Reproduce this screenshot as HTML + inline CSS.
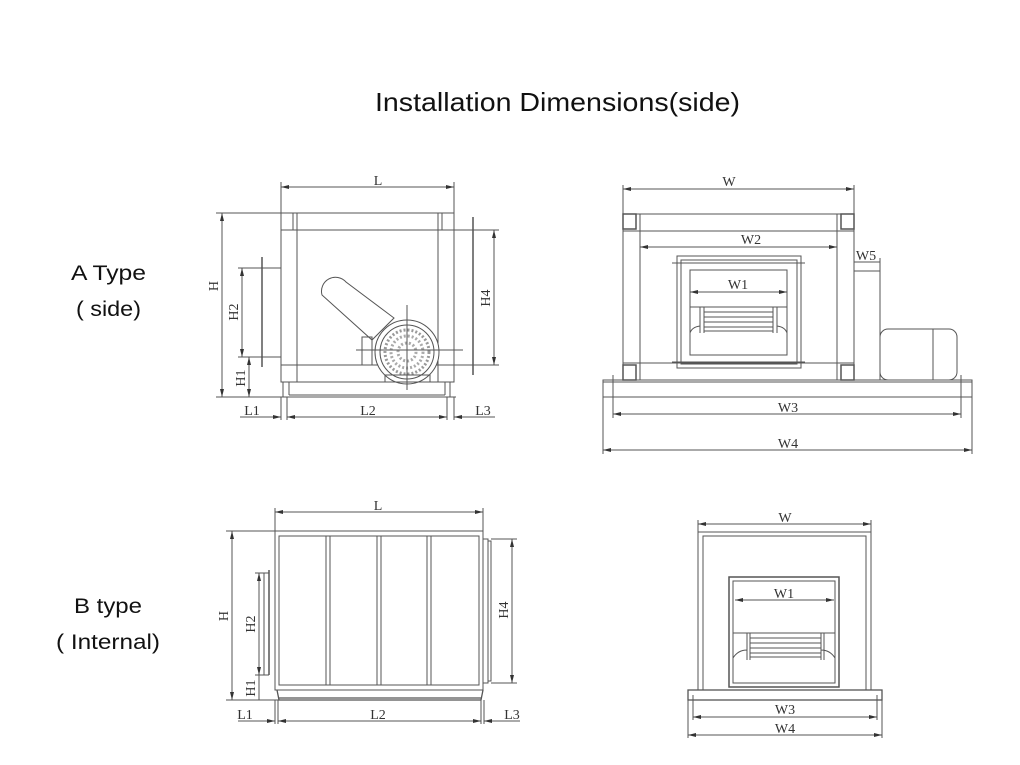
<!DOCTYPE html>
<html><head><meta charset="utf-8"><style>
html,body{margin:0;padding:0;background:#fff;}
svg{display:block}
.t{font-family:"Liberation Sans","Noto Sans CJK SC",sans-serif;fill:#111}
.d{font-family:"Liberation Serif",serif;font-size:14px;fill:#333}
</style></head><body>
<svg width="1020" height="765" viewBox="0 0 1020 765" xmlns="http://www.w3.org/2000/svg">
<defs>
<marker id="a" markerWidth="8" markerHeight="6" refX="8" refY="3" orient="auto-start-reverse" markerUnits="userSpaceOnUse"><path d="M0,1 L8,3 L0,5z" fill="#333"/></marker>
</defs>
<text class="t" x="375" y="111" font-size="26" textLength="365" lengthAdjust="spacingAndGlyphs">Installation Dimensions(side)</text>
<text class="t" x="71" y="280" font-size="21" textLength="75" lengthAdjust="spacingAndGlyphs">A Type</text>
<text class="t" x="76" y="316" font-size="21" textLength="65" lengthAdjust="spacingAndGlyphs">( side)</text>
<text class="t" x="74" y="613" font-size="21" textLength="68" lengthAdjust="spacingAndGlyphs">B type</text>
<text class="t" x="56" y="649" font-size="21" textLength="104" lengthAdjust="spacingAndGlyphs">( Internal)</text>

<g fill="none" stroke="#555" stroke-width="1">
<!-- ===== A side ===== -->
<line x1="281" y1="187" x2="454" y2="187" marker-start="url(#a)" marker-end="url(#a)"/>
<line x1="281" y1="182" x2="281" y2="213"/><line x1="454" y1="182" x2="454" y2="213"/>
<rect x="281" y="213" width="173" height="169"/>
<line x1="297" y1="213" x2="297" y2="382"/><line x1="438" y1="213" x2="438" y2="382"/>
<line x1="281" y1="230" x2="454" y2="230"/><line x1="281" y1="365" x2="454" y2="365"/>
<rect x="281" y="213" width="12" height="17"/><rect x="442" y="213" width="12" height="17"/>
<path d="M283,382 L283,397 M450,382 L450,397 M281,397 L456,397 M289,382 L289,395 M445,382 L445,395 M289,395 L445,395"/>
<rect x="262" y="268" width="19" height="89"/>
<line x1="262" y1="257" x2="262" y2="367" stroke-width="1.5"/>
<rect x="454" y="230" width="19" height="135"/>
<line x1="473" y1="217" x2="473" y2="375" stroke-width="1.5"/>
<line x1="216" y1="213" x2="281" y2="213"/><line x1="216" y1="397" x2="283" y2="397"/>
<line x1="222" y1="213" x2="222" y2="397" marker-start="url(#a)" marker-end="url(#a)"/>
<line x1="238" y1="268" x2="262" y2="268"/><line x1="238" y1="357" x2="262" y2="357"/>
<line x1="242" y1="268" x2="242" y2="357" marker-start="url(#a)" marker-end="url(#a)"/>
<line x1="249" y1="357" x2="249" y2="397" marker-start="url(#a)" marker-end="url(#a)"/>
<line x1="454" y1="230" x2="499" y2="230"/><line x1="454" y1="365" x2="499" y2="365"/>
<line x1="494" y1="230" x2="494" y2="365" marker-start="url(#a)" marker-end="url(#a)"/>
<path d="M281,397 L281,420 M287,397 L287,420 M447,397 L447,420 M454,397 L454,420"/>
<line x1="240" y1="417" x2="281" y2="417" marker-end="url(#a)"/>
<line x1="287" y1="417" x2="447" y2="417" marker-start="url(#a)" marker-end="url(#a)"/>
<line x1="454" y1="417" x2="495" y2="417" marker-start="url(#a)"/>
<path d="M322,295 A14,14 0 0 1 346,282 L394,318 L372,340 Z"/>
<circle cx="407" cy="352" r="32" fill="#fff"/>
<circle cx="407" cy="352" r="27"/>
<circle cx="407" cy="352" r="22" stroke-dasharray="2 2" stroke-width="3" stroke="#999"/>
<circle cx="407" cy="352" r="16" stroke-dasharray="2 2" stroke-width="3" stroke="#aaa"/>
<circle cx="407" cy="352" r="9" stroke-dasharray="2 2" stroke-width="3" stroke="#aaa"/>
<line x1="407" y1="305" x2="407" y2="390"/><line x1="356" y1="350" x2="463" y2="350"/>
<rect x="362" y="337" width="10" height="28"/>
<path d="M385,382 L430,382 L430,375 L385,375Z"/>

<!-- ===== A front ===== -->
<line x1="623" y1="189" x2="854" y2="189" marker-start="url(#a)" marker-end="url(#a)"/>
<line x1="623" y1="185" x2="623" y2="214"/><line x1="854" y1="185" x2="854" y2="214"/>
<rect x="623" y="214" width="231" height="166"/>
<line x1="640" y1="214" x2="640" y2="380"/><line x1="837" y1="214" x2="837" y2="380"/>
<line x1="623" y1="231" x2="854" y2="231"/><line x1="623" y1="363" x2="854" y2="363"/>
<rect x="623" y="214" width="13" height="15" stroke-width="1.5"/><rect x="841" y="214" width="13" height="15" stroke-width="1.5"/>
<rect x="623" y="365" width="13" height="15" stroke-width="1.5"/><rect x="841" y="365" width="13" height="15" stroke-width="1.5"/>
<line x1="640" y1="247" x2="837" y2="247" marker-start="url(#a)" marker-end="url(#a)"/>
<rect x="677" y="256" width="124" height="112"/>
<rect x="681" y="260" width="116" height="104"/>
<rect x="690" y="270" width="97" height="85"/>
<line x1="672" y1="263" x2="805" y2="263"/><line x1="672" y1="362" x2="805" y2="362"/>
<line x1="690" y1="292" x2="787" y2="292" marker-start="url(#a)" marker-end="url(#a)"/>
<line x1="690" y1="307" x2="787" y2="307"/>
<path d="M700,307 V333 M704,307 V333 M777,307 V333 M773,307 V333 M704,312 H773 M704,317 H773 M704,322 H773 M704,327 H773 M704,331 H773 M690,333 Q692,327 700,326 M787,333 Q785,327 777,326"/>
<rect x="854" y="271" width="26" height="109"/>
<line x1="854" y1="262" x2="880" y2="262"/><line x1="880" y1="258" x2="880" y2="271"/>
<rect x="880" y="329" width="77" height="51" rx="8"/>
<line x1="933" y1="329" x2="933" y2="380"/>
<rect x="603" y="380" width="369" height="17"/>
<line x1="603" y1="382" x2="972" y2="382"/>
<path d="M613,375 V418 M961,375 V418 M603,397 V454 M972,397 V454"/>
<line x1="613" y1="414" x2="961" y2="414" marker-start="url(#a)" marker-end="url(#a)"/>
<line x1="603" y1="450" x2="972" y2="450" marker-start="url(#a)" marker-end="url(#a)"/>

<!-- ===== B side ===== -->
<line x1="275" y1="512" x2="483" y2="512" marker-start="url(#a)" marker-end="url(#a)"/>
<line x1="275" y1="508" x2="275" y2="531"/><line x1="483" y1="508" x2="483" y2="531"/>
<rect x="275" y="531" width="208" height="159"/>
<rect x="279" y="536" width="200" height="149"/>
<path d="M326,536 V685 M330,536 V685 M377,536 V685 M381,536 V685 M427,536 V685 M431,536 V685"/>
<path d="M277,690 L279,700 L481,700 L483,690 M279,698 H481" stroke-width="1.3"/>
<rect x="483" y="539" width="5" height="144"/>
<rect x="488" y="541" width="3" height="140"/>
<line x1="269" y1="570" x2="269" y2="675" stroke-width="1.5"/>
<line x1="264" y1="573" x2="264" y2="675"/>
<line x1="226" y1="531" x2="275" y2="531"/><line x1="226" y1="700" x2="279" y2="700"/>
<line x1="232" y1="531" x2="232" y2="700" marker-start="url(#a)" marker-end="url(#a)"/>
<line x1="255" y1="573" x2="269" y2="573"/><line x1="255" y1="675" x2="269" y2="675"/>
<line x1="259" y1="573" x2="259" y2="675" marker-start="url(#a)" marker-end="url(#a)"/>
<line x1="259" y1="675" x2="259" y2="700"/>
<line x1="491" y1="539" x2="517" y2="539"/><line x1="491" y1="683" x2="517" y2="683"/>
<line x1="512" y1="539" x2="512" y2="683" marker-start="url(#a)" marker-end="url(#a)"/>
<path d="M275,700 V724 M278,700 V724 M481,700 V724 M484,700 V724"/>
<line x1="238" y1="721" x2="275" y2="721" marker-end="url(#a)"/>
<line x1="278" y1="721" x2="481" y2="721" marker-start="url(#a)" marker-end="url(#a)"/>
<line x1="484" y1="721" x2="520" y2="721" marker-start="url(#a)"/>

<!-- ===== B front ===== -->
<line x1="698" y1="524" x2="871" y2="524" marker-start="url(#a)" marker-end="url(#a)"/>
<line x1="698" y1="520" x2="698" y2="532"/><line x1="871" y1="520" x2="871" y2="532"/>
<rect x="698" y="532" width="173" height="158"/>
<rect x="703" y="536" width="163" height="154"/>
<rect x="729" y="577" width="110" height="110" stroke-width="1.5"/>
<rect x="733" y="581" width="102" height="102"/>
<line x1="735" y1="600" x2="834" y2="600" marker-start="url(#a)" marker-end="url(#a)"/>
<line x1="733" y1="633" x2="835" y2="633"/>
<path d="M747,633 V660 M750,633 V660 M824,633 V660 M821,633 V660 M750,638 H821 M750,643 H821 M750,648 H821 M750,653 H821 M750,657 H821 M733,658 Q738,650 747,650 M835,658 Q830,650 821,650"/>
<rect x="688" y="690" width="194" height="10" stroke-width="1.3"/>
<path d="M693,695 V720 M877,695 V720 M688,700 V738 M882,700 V738"/>
<line x1="693" y1="717" x2="877" y2="717" marker-start="url(#a)" marker-end="url(#a)"/>
<line x1="688" y1="735" x2="882" y2="735" marker-start="url(#a)" marker-end="url(#a)"/>
</g>

<text class="d" x="378" y="185" text-anchor="middle">L</text>
<text class="d" transform="translate(218,286) rotate(-90)" text-anchor="middle">H</text>
<text class="d" transform="translate(238,312) rotate(-90)" text-anchor="middle">H2</text>
<text class="d" transform="translate(245,378) rotate(-90)" text-anchor="middle">H1</text>
<text class="d" transform="translate(490,298) rotate(-90)" text-anchor="middle">H4</text>
<text class="d" x="252" y="415" text-anchor="middle">L1</text>
<text class="d" x="368" y="415" text-anchor="middle">L2</text>
<text class="d" x="483" y="415" text-anchor="middle">L3</text>
<text class="d" x="729" y="186" text-anchor="middle">W</text>
<text class="d" x="751" y="244" text-anchor="middle">W2</text>
<text class="d" x="866" y="260" text-anchor="middle">W5</text>
<text class="d" x="738" y="289" text-anchor="middle">W1</text>
<text class="d" x="788" y="412" text-anchor="middle">W3</text>
<text class="d" x="788" y="448" text-anchor="middle">W4</text>
<text class="d" x="378" y="510" text-anchor="middle">L</text>
<text class="d" transform="translate(228,616) rotate(-90)" text-anchor="middle">H</text>
<text class="d" transform="translate(255,624) rotate(-90)" text-anchor="middle">H2</text>
<text class="d" transform="translate(255,688) rotate(-90)" text-anchor="middle">H1</text>
<text class="d" transform="translate(508,610) rotate(-90)" text-anchor="middle">H4</text>
<text class="d" x="245" y="719" text-anchor="middle">L1</text>
<text class="d" x="378" y="719" text-anchor="middle">L2</text>
<text class="d" x="512" y="719" text-anchor="middle">L3</text>
<text class="d" x="785" y="522" text-anchor="middle">W</text>
<text class="d" x="784" y="598" text-anchor="middle">W1</text>
<text class="d" x="785" y="714" text-anchor="middle">W3</text>
<text class="d" x="785" y="733" text-anchor="middle">W4</text>
</svg>
</body></html>
